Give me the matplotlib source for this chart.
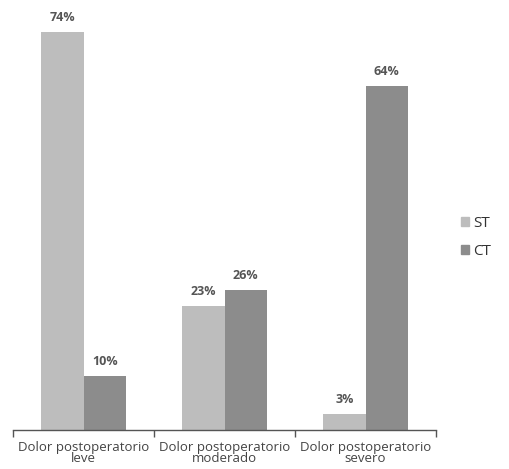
import matplotlib
matplotlib.use("Agg")
import matplotlib.pyplot as plt
import numpy as np
from matplotlib.patches import Patch

categories = ["Dolor postoperatorio\nleve", "Dolor postoperatorio\nmoderado", "Dolor postoperatorio\nsevero"]
series_names = ["ST", "CT"]
st_values = [74, 23, 3]
ct_values = [10, 26, 64]

plt.rcParams['font.family'] = ['Open Sans', 'DejaVu Sans']

fig = plt.figure(figsize=(5.10, 4.69), dpi=100)
ax = fig.add_axes([13/510, 39/469, 423/510, 430/469])

x = np.arange(len(categories))
w = 0.3
c_st = "#bdbdbd"
c_ct = "#8c8c8c"
b1 = ax.bar(x - w/2, st_values, w, color=c_st)
b2 = ax.bar(x + w/2, ct_values, w, color=c_ct)

for bars, vals in ((b1, st_values), (b2, ct_values)):
    for r, v in zip(bars, vals):
        ax.text(r.get_x() + r.get_width()/2, v + 1.5, f"{v}%", ha="center", va="bottom",
                fontsize=9, fontweight="bold", color="#555555")

ax.set_xlim(-0.5, 2.5)
ax.set_ylim(0, 80)
for s in ("top", "right", "left"):
    ax.spines[s].set_visible(False)
ax.spines["bottom"].set_color("#555555")
ax.spines["bottom"].set_linewidth(1.0)
ax.set_yticks([])
ax.set_xticks(x)
ax.set_xticklabels(categories, fontsize=9.5, color="#444444", linespacing=0.8)
ax.tick_params(axis="x", which="major", length=0, pad=8)
ax.set_xticks([-0.5, 0.5, 1.5, 2.5], minor=True)
ax.tick_params(axis="x", which="minor", length=5, color="#555555", width=1.0)

handles = [Patch(color=c_st, label=series_names[0]), Patch(color=c_ct, label=series_names[1])]
fig.legend(handles=handles, loc="center left", bbox_to_anchor=(461/510, 1 - 237.5/469),
           frameon=False, fontsize=11, handlelength=0.55, handleheight=0.45,
           handletextpad=0.25, labelspacing=0.85, borderpad=0, borderaxespad=0,
           labelcolor="#333333")

fig.savefig("out.png", dpi=100)
